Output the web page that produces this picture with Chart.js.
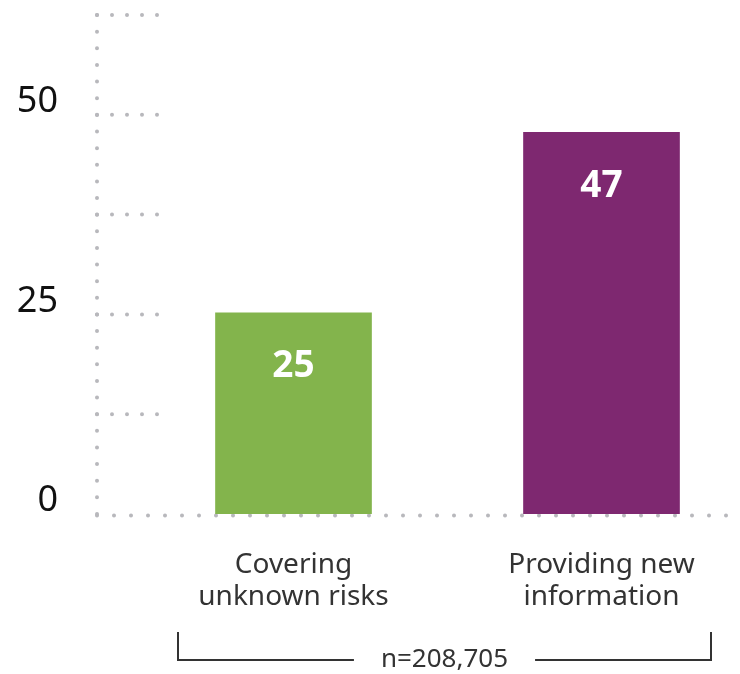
<!DOCTYPE html>
<html>
<head>
<meta charset="utf-8">
<script src="https://cdn.jsdelivr.net/npm/chart.js@4/dist/chart.umd.min.js"></script>
<style>
  html, body { margin: 0; padding: 0; background: #fff; }
  #wrap { width: 740px; height: 674px; position: relative; }
</style>
</head>
<body>
<div id="wrap"><canvas id="chart"></canvas></div>
<script>
"use strict";

/* data */
var categories = [['Covering', 'unknown risks'], ['Providing new', 'information']];
var values = [25.2, 47.8];
var valueLabels = ['25', '47'];
var barColors = ['#83b44c', '#7e2870'];
var yTickLabels = [0, 25, 50];
var sampleNote = 'n=208,705';

/* dotted grid: full baseline, short stubs for the other ticks */
var dottedGrid = {
    id: 'dottedGrid',
    beforeDatasetsDraw: function (chart) {
        var ctx = chart.ctx, a = chart.chartArea, y = chart.scales.y;
        ctx.save();
        ctx.strokeStyle = '#b8b8bc';
        ctx.lineWidth = 4;
        ctx.lineCap = 'round';
        y.ticks.forEach(function (t) {
            var py = y.getPixelForValue(t.value);
            var isBase = t.value === 0;
            ctx.setLineDash(isBase ? [0, 17] : [0, 15]);
            ctx.beginPath();
            ctx.moveTo(a.left, isBase ? py + 1.5 : py);
            ctx.lineTo(isBase ? a.right : a.left + 61, isBase ? py + 1.5 : py);
            ctx.stroke();
        });
        ctx.setLineDash([0, 16.63]);
        ctx.beginPath();
        ctx.moveTo(a.left, a.bottom);
        ctx.lineTo(a.left, a.top);
        ctx.stroke();
        ctx.restore();
    }
};

/* white value labels inside the bars */
var barValues = {
    id: 'barValues',
    afterDatasetsDraw: function (chart) {
        var ctx = chart.ctx;
        var meta = chart.getDatasetMeta(0);
        ctx.save();
        ctx.fillStyle = '#fff';
        ctx.font = 'bold 37px "Noto Sans"';
        ctx.textAlign = 'center';
        ctx.textBaseline = 'middle';
        meta.data.forEach(function (bar, i) {
            ctx.fillText(valueLabels[i], bar.x, bar.y + 54);
        });
        ctx.restore();
    }
};

/* bracket with the sample size under the axis */
var sampleBracket = {
    id: 'sampleBracket',
    afterDraw: function (chart) {
        var ctx = chart.ctx;
        var left = 178, right = 711, top = 632, bottom = 660;
        var mid = (left + right) / 2;
        ctx.save();
        ctx.font = '26px "Noto Sans"';
        var half = ctx.measureText(sampleNote).width / 2 + 27;
        ctx.strokeStyle = '#333';
        ctx.lineWidth = 2;
        ctx.beginPath();
        ctx.moveTo(left, top);
        ctx.lineTo(left, bottom);
        ctx.lineTo(mid - half, bottom);
        ctx.moveTo(mid + half, bottom);
        ctx.lineTo(right, bottom);
        ctx.lineTo(right, top);
        ctx.stroke();
        ctx.fillStyle = '#333';
        ctx.textAlign = 'center';
        ctx.textBaseline = 'middle';
        ctx.fillText(sampleNote, mid, bottom);
        ctx.restore();
    }
};

var ctx = document.getElementById('chart').getContext('2d');
var chart = new Chart(ctx, {
    type: 'bar',
    data: {
        datasets: [{
            data: values.map(function (v, i) { return { x: i, y: v }; }),
            backgroundColor: barColors,
            borderWidth: 0,
            barThickness: 156
        }]
    },
    options: {
        responsive: true,
        maintainAspectRatio: false,
        animation: false,
        layout: { padding: { top: 15, right: 12, bottom: 0, left: 0 } },
        plugins: {
            legend: { display: false },
            tooltip: { enabled: false }
        },
        scales: {
            x: {
                type: 'linear',
                offset: false,
                min: -0.638,
                max: 1.4107,
                grid: { display: false },
                border: { display: false },
                afterBuildTicks: function (s) {
                    s.ticks = categories.map(function (c, i) { return { value: i }; });
                },
                afterFit: function (s) {
                    s.height = 160;
                    s.paddingLeft = 0; s.paddingRight = 0;
                },
                ticks: {
                    padding: 27,
                    color: '#333',
                    font: { family: 'Noto Sans', size: 28, lineHeight: 1.14 },
                    maxRotation: 0,
                    autoSkip: false,
                    callback: function (v) { return categories[v]; }
                }
            },
            y: {
                min: 0,
                max: 62.5,
                grid: { display: false },
                border: { display: false },
                afterFit: function (s) {
                    s.width = 97;
                    s.paddingTop = 0; s.paddingBottom = 0;
                },
                ticks: {
                    stepSize: 12.5,
                    padding: 31,
                    labelOffset: -13,
                    color: '#111',
                    font: { family: 'Noto Sans', size: 36 },
                    callback: function (v) { return yTickLabels.indexOf(v) >= 0 ? v : ''; }
                }
            }
        }
    },
    plugins: [dottedGrid, barValues, sampleBracket]
});
</script>
</body>
</html>
